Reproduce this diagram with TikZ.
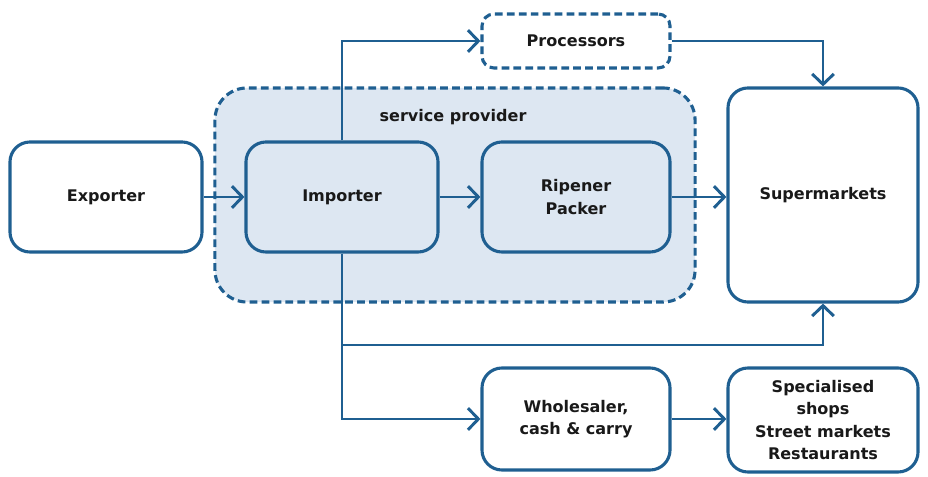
\documentclass[tikz,border=0pt]{standalone}
\usepackage{fontspec}
\setmainfont{DejaVu Sans}
\usetikzlibrary{positioning}
\usetikzlibrary{arrows.meta}
\definecolor{flowblue}{RGB}{31,95,145}
\definecolor{provfill}{RGB}{221,231,242}
\tikzset{
  box/.style={draw=flowblue, line width=2.2pt, rounded corners=0.5cm, align=center,
    font=\bfseries\fontsize{11.4}{16}\selectfont, text=black!90},
  dbox/.style={box, dash pattern=on 5.5pt off 3pt},
  flow/.style={draw=flowblue, line width=2.1pt,
    -{Straight Barb[length=2.6mm,width=5.4mm]}},
}
\begin{document}
\begin{tikzpicture}[x=0.025cm, y=-0.025cm]
\useasboundingbox (0,0) rectangle (928,477);

% service provider area
\node[dbox, fill=provfill, rounded corners=0.8cm, minimum width=12cm, minimum height=5.35cm] (prov) at (455,195) {};
\node[font=\bfseries\fontsize{11.4}{16}\selectfont, text=black!90] (provlabel) at (453,117) {service provider};

\node[box, minimum width=4.8cm, minimum height=2.75cm] (exp) at (106,197) {Exporter};
\node[box, fill=provfill, minimum width=4.8cm, minimum height=2.75cm] (imp) at (342,197) {Importer};
\node[box, fill=provfill, minimum width=4.7cm, minimum height=2.75cm] (rip) at (576,197) {Ripener\\Packer};
\node[box, minimum width=4.75cm, minimum height=5.35cm] (sup) at (823,195) {Supermarkets};
\node[dbox, fill=white, rounded corners=0.3cm, minimum width=4.7cm, minimum height=1.35cm] (proc) at (576,41) {Processors};
\node[box, minimum width=4.7cm, minimum height=2.55cm] (whole) at (576,419) {Wholesaler,\\cash \& carry};
\node[box, minimum width=4.75cm, minimum height=2.6cm] (spec) at (823,420) {Specialised\\shops\\Street markets\\Restaurants};

\coordinate (branch) at (imp.south |- 0,345);

\draw[flow] (exp) -- (imp);
\draw[flow] (imp) -- (rip);
\draw[flow] (rip.east) -- (rip.east -| sup.west);
\draw[flow] (imp.north) |- (proc.west);
\draw[flow] (proc.east) -| (sup.north);
\draw[flow] (imp.south) -- (branch) -| (sup.south);
\draw[flow] (branch) |- (whole.west);
\draw[flow] (whole.east) -- (whole.east -| spec.west);
\end{tikzpicture}
\end{document}
